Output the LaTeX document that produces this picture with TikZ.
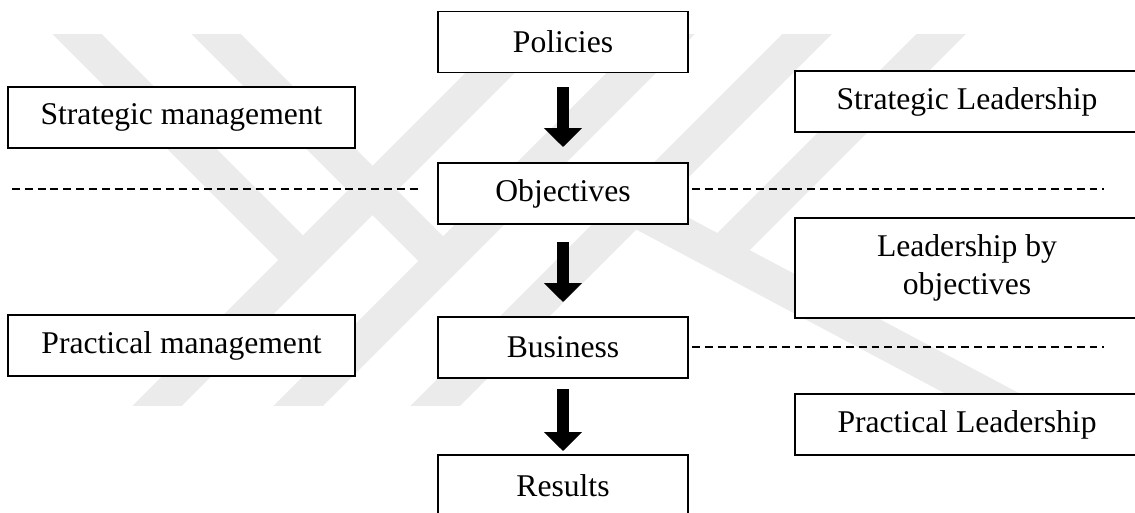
\documentclass[tikz,border=0pt]{standalone}
\usepackage{fontspec}
\setmainfont{Liberation Serif}
\usetikzlibrary{arrows.meta}
\tikzstyle{box}=[draw,fill=white,line width=1.1pt,minimum height=1.22cm,inner sep=2pt,align=center,font=\fontsize{18}{22}\selectfont]
\tikzstyle{stripe}=[draw=black!8,line width=0.7cm]
\tikzstyle{flow}=[line width=0.24cm,-{Triangle[length=0.38cm,width=0.74cm]}]
\tikzstyle{sepline}=[line width=0.6pt,dash pattern=on 4.5pt off 2.8pt]

\begin{document}
\begin{tikzpicture}[x=0.02cm,y=-0.02cm]
\useasboundingbox (0,0) rectangle (1135,513);
\clip (0,0) rectangle (1135,513);
% logo in the background
\begin{scope}
  \clip (0,35) rectangle (1135,405);
  \draw[stripe] (43,0) -- (303,260);
  \draw[stripe] (182,0) -- (443,261);
  \draw[stripe] (123,440) -- (563,0);
  \draw[stripe] (264,440) -- (704,0);
  \draw[stripe] (401,440) -- (841,0);
  \draw[stripe] (975,0) -- (720,255);
  \draw[stripe] (633,208) -- (1070,440);
\end{scope}
% middle column
\node[box,minimum width=5cm] (pol) at (563,42) {Policies};
\node[box,minimum width=5cm] (obj) at (563,193.5) {Objectives};
\node[box,minimum width=5cm] (bus) at (563,347.5) {Business};
\node[box,minimum width=5cm] (res) at (563,485.5) {Results};
% management and leadership
\node[box,minimum width=6.94cm] (sm) at (181.5,117.5) {Strategic management};
\node[box,minimum width=6.94cm] (pm) at (181.5,345.5) {Practical management};
\node[box,minimum width=6.88cm] (sl) at (967,101.5) {Strategic Leadership};
\node[box,minimum width=6.88cm,minimum height=2cm] (lo) at (967,268) {Leadership by\\objectives};
\node[box,minimum width=6.88cm] (pl) at (967,424.5) {Practical Leadership};

\draw[flow,shorten <=0.28cm,shorten >=0.3cm] (pol) -- (obj);
\draw[flow,shorten <=0.34cm,shorten >=0.28cm] (obj) -- (bus);
\draw[flow,shorten <=0.2cm,shorten >=0.06cm] (bus) -- (res);

\coordinate (sepL) at (12,189);
\coordinate (sepR) at (1104,189);
\coordinate (sepR2) at (1104,347);
\draw[sepline,shorten >=0.3cm] (sepL) -- (sepL -| obj.west);
\draw[sepline,shorten <=0.06cm] (sepR -| obj.east) -- (sepR);
\draw[sepline,shorten <=0.06cm] (sepR2 -| bus.east) -- (sepR2);
\end{tikzpicture}
\end{document}
